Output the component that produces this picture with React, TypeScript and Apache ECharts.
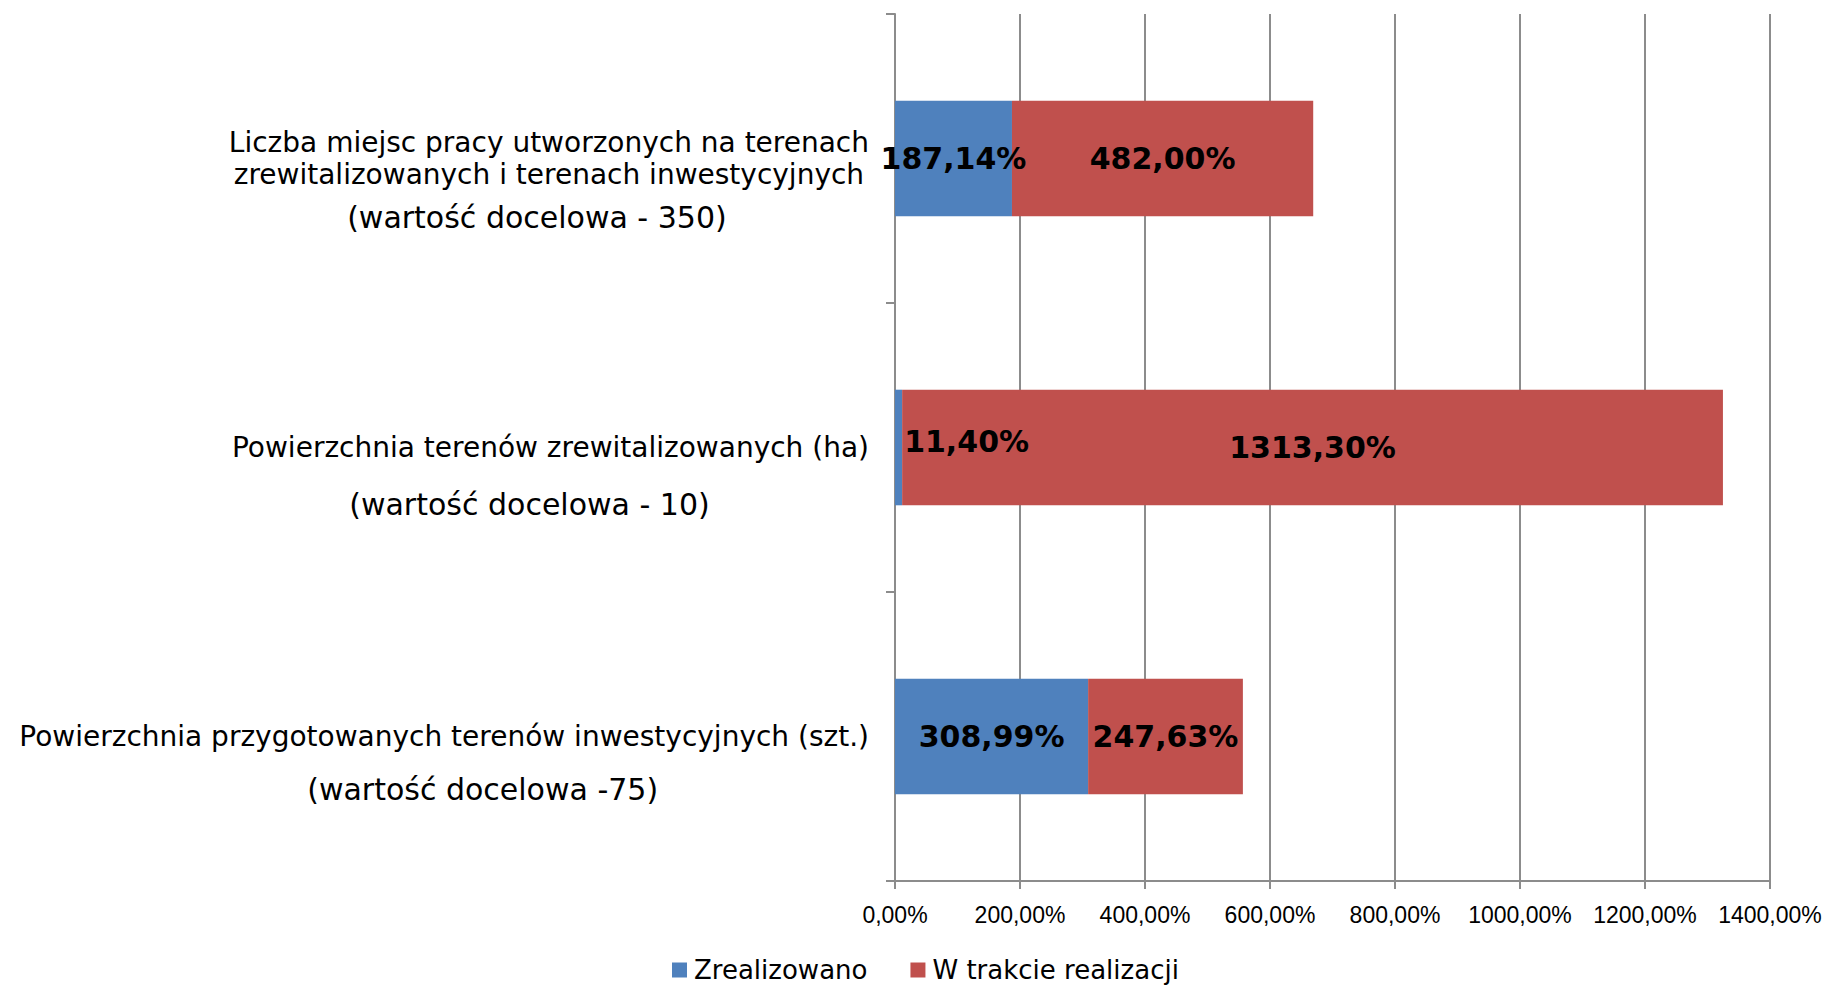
import React, { useEffect, useRef } from 'react';
import * as echarts from 'echarts';

const categories = [
  'Liczba miejsc pracy utworzonych na terenach\nzrewitalizowanych i terenach inwestycyjnych\n(wartość docelowa - 350)',
  'Powierzchnia terenów zrewitalizowanych (ha)\n(wartość docelowa - 10)',
  'Powierzchnia przygotowanych terenów inwestycyjnych (szt.)\n(wartość docelowa -75)',
];
const seriesNames = ['Zrealizowano', 'W trakcie realizacji'];
const zrealizowano = [187.14, 11.4, 308.99];
const wTrakcie = [482.0, 1313.3, 247.63];
const axisMin = 0;
const axisMax = 1400;
const axisInterval = 200;

const COLORS = ['#4F81BD', '#C0504D'];
const GRID_COLOR = '#8c8c8c';
const CAT_FONT = 'DejaVu Sans';

// per-category label line layout (styling only)
const labelLayout = [
  { top: 54, lineHeights: [32, 32, 55], fontSizes: [28, 28, 30], padLeft: [0, 0, 0], padRight: [0, 0, 24] },
  { top: 57, lineHeights: [57, 57], fontSizes: [28, 30], padLeft: [0, 0], padRight: [0, 42] },
  { top: 53, lineHeights: [53, 53], fontSizes: [28, 30], padLeft: [0, 77], padRight: [0, 0] },
];

const fmtPct = (v: number) => v.toFixed(2).replace('.', ',') + '%';

export default function App() {
  const ref = useRef<HTMLDivElement>(null);
  useEffect(() => {
    if (!ref.current) return;
    const chart = echarts.init(ref.current, undefined, { renderer: 'svg' });
    const rich: any = {};
    labelLayout.forEach((L, i) => {
      rich[`t${i}`] = { fontSize: 1, lineHeight: L.top, align: 'center' };
      L.lineHeights.forEach((h, j) => {
        rich[`c${i}l${j}`] = {
          fontFamily: CAT_FONT,
          fontSize: L.fontSizes[j],
          color: '#000',
          lineHeight: h,
          align: 'center',
          padding: [0, L.padRight[j], 0, L.padLeft[j]],
        };
      });
    });
    const dataLabel = {
      show: true,
      position: 'inside',
      formatter: (p: any) => fmtPct(p.value),
      fontFamily: CAT_FONT,
      fontWeight: 'bold',
      fontSize: 30,
      color: '#000',
      textBorderWidth: 0,
    };
    chart.setOption({
      animation: false,
      color: COLORS,
      grid: { left: 895, right: 57, top: 14, bottom: 105, containLabel: false },
      legend: {
        data: seriesNames,
        left: 672,
        top: 957,
        padding: 0,
        itemWidth: 15,
        itemHeight: 15,
        itemGap: 43,
        icon: 'rect',
        selectedMode: false,
        textStyle: { fontFamily: CAT_FONT, fontSize: 26, color: '#000', padding: [0, 0, 0, 2] },
      },
      xAxis: {
        type: 'value',
        min: axisMin,
        max: axisMax,
        interval: axisInterval,
        axisLine: { show: true, lineStyle: { color: GRID_COLOR, width: 2 } },
        axisTick: { show: true, length: 8, lineStyle: { color: GRID_COLOR, width: 2 } },
        splitLine: { show: true, lineStyle: { color: GRID_COLOR, width: 2 } },
        axisLabel: {
          formatter: (v: number) => fmtPct(v),
          fontFamily: 'Liberation Sans',
          fontSize: 23,
          color: '#000',
          margin: 22,
        },
      },
      yAxis: {
        type: 'category',
        inverse: true,
        data: categories,
        axisLine: { show: true, lineStyle: { color: GRID_COLOR, width: 2 } },
        axisTick: { show: true, length: 9, lineStyle: { color: GRID_COLOR, width: 2 } },
        splitLine: { show: false },
        axisLabel: {
          margin: 26,
          align: 'right',
          formatter: (value: string, index: number) => {
            const lines = value.split('\n');
            return `{t${index}| }\n` + lines.map((ln, j) => `{c${index}l${j}|${ln}}`).join('\n');
          },
          rich,
        },
      },
      series: [
        {
          name: seriesNames[0],
          type: 'bar',
          stack: 'total',
          barCategoryGap: '60%',
          emphasis: { disabled: true },
          label: dataLabel,
          data: zrealizowano.map((v) =>
            v < 50 ? { value: v, label: { position: 'right', distance: 2, offset: [0, -6] } } : v
          ),
        },
        {
          name: seriesNames[1],
          type: 'bar',
          stack: 'total',
          barCategoryGap: '60%',
          emphasis: { disabled: true },
          label: dataLabel,
          data: wTrakcie,
        },
      ],
    });
    return () => chart.dispose();
  }, []);
  return (
    <div
      ref={ref}
      style={{ position: 'fixed', left: 0, top: 0, width: 1827, height: 986, background: '#fff' }}
    />
  );
}
